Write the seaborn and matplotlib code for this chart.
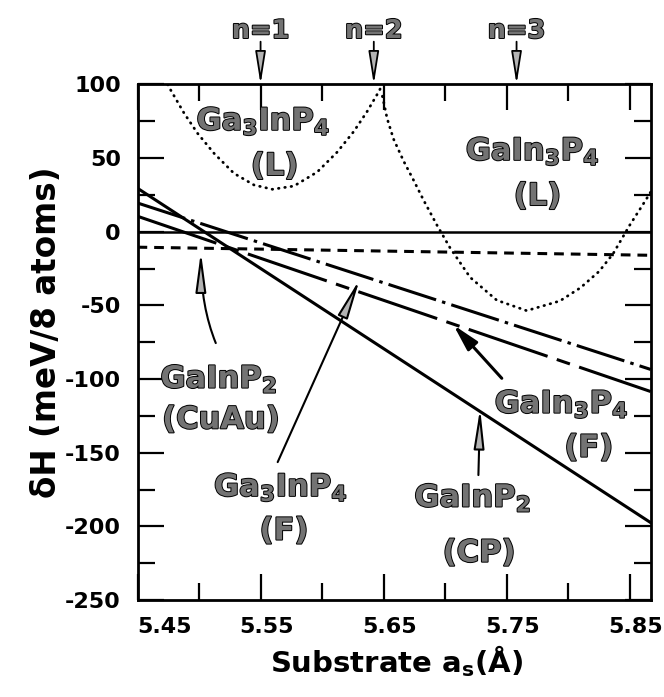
import numpy as np
import pandas as pd
import matplotlib
matplotlib.use("Agg")
import matplotlib.pyplot as plt
import matplotlib.patheffects as pe
import matplotlib.transforms as mtransforms
from matplotlib.ticker import MultipleLocator
import seaborn as sns

# ---------------- data ----------------
x_edges = [5.45, 5.867]
cp_line = [29.5, -197.5]        # GaInP2 (CP)   solid
ga3inp4_f = [19.5, -93.5]       # Ga3InP4 (F)   dash-dot
gain3p4_f = [10.5, -108.5]      # GaIn3P4 (F)   long dash
cuau_line = [-10.5, -16.0]      # GaInP2 (CuAu) dashed
zero_line = [0.0, 0.0]

ga3inp4_l_x = [5.4745, 5.4766, 5.4879, 5.4988, 5.5122, 5.5284, 5.5447, 5.5596,
               5.5771, 5.5960, 5.6122, 5.6257, 5.6365, 5.6460, 5.6490]
ga3inp4_l_y = [100.0, 96.7, 80.4, 66.8, 53.2, 39.6, 31.7, 28.8,
               31.0, 40.5, 54.0, 68.0, 81.5, 95.0, 100.0]

gain3p4_l_x = [5.6490, 5.6528, 5.6580, 5.6662, 5.6743, 5.6824, 5.6933, 5.7040,
               5.7203, 5.7419, 5.7662, 5.7932, 5.8100, 5.8250, 5.8364, 5.8500,
               5.8630, 5.8670]
gain3p4_l_y = [92.0, 77.0, 63.0, 48.0, 35.0, 21.5, 4.5, -11.0,
               -31.0, -46.5, -53.6, -47.0, -38.0, -27.0, -15.0, 4.5,
               21.5, 27.0]

n_positions = [5.55, 5.642, 5.758]
n_labels = ["n=1", "n=2", "n=3"]

x_major = [5.45, 5.55, 5.65, 5.75, 5.85]
x_ticklabels = ["5.45", "5.55", "5.65", "5.75", "5.85"]
y_major = [-250, -200, -150, -100, -50, 0, 50, 100]
y_ticklabels = ["-250", "-200", "-150", "-100", "-50", "0", "50", "100"]

# ---------------- style ----------------
sns.set_theme(style="ticks")
plt.rcParams["font.family"] = ["DejaVu Sans"]
plt.rcParams["font.weight"] = "bold"
plt.rcParams["mathtext.fontset"] = "dejavusans"
plt.rcParams["mathtext.default"] = "bf"
plt.rcParams["lines.scale_dashes"] = False
plt.rcParams["axes.linewidth"] = 2.0
plt.rcParams["text.color"] = "black"
plt.rcParams["axes.labelcolor"] = "black"

fig = plt.figure(figsize=(6.64, 6.97), dpi=100)
ax = fig.add_axes([137.5 / 664, 1 - 600 / 697, 513.2 / 664, 515.6 / 697])

lines_df = pd.DataFrame({
    "x": x_edges * 5,
    "y": cp_line + ga3inp4_f + gain3p4_f + cuau_line + zero_line,
    "name": ["cp"] * 2 + ["ga3f"] * 2 + ["gain3f"] * 2 + ["cuau"] * 2 + ["zero"] * 2,
})
styles = {
    "cp": dict(lw=2.2, linestyle="-"),
    "ga3f": dict(lw=2.2, linestyle=(0, (36, 4.5, 2.5, 4.5))),
    "gain3f": dict(lw=2.2, linestyle=(0, (60, 7, 10, 7))),
    "cuau": dict(lw=2.2, linestyle=(0, (7, 5))),
    "zero": dict(lw=1.8, linestyle="-"),
}
for name, st in styles.items():
    sub = lines_df[lines_df["name"] == name]
    sns.lineplot(data=sub, x="x", y="y", ax=ax, color="black",
                 estimator=None, sort=False, **st)

for cx, cy in [(ga3inp4_l_x, ga3inp4_l_y), (gain3p4_l_x, gain3p4_l_y)]:
    sns.lineplot(x=cx, y=cy, ax=ax, color="black", lw=2.0,
                 linestyle=(0, (0.4, 4.2)), estimator=None, sort=False,
                 dash_capstyle="round")

ax.set_xlim(5.45, 5.867)
ax.set_ylim(-250, 100)
ax.set_xticks(x_major)
ax.set_xticklabels(x_ticklabels)
ax.set_yticks(y_major)
ax.set_yticklabels(y_ticklabels)
ax.xaxis.set_minor_locator(MultipleLocator(0.05))
ax.yaxis.set_minor_locator(MultipleLocator(25))
ax.tick_params(which="both", direction="in", top=True, right=True,
               width=1.6, colors="black")
ax.tick_params(which="major", length=19)
ax.tick_params(which="minor", length=12.5)
ax.tick_params(axis="x", which="major", labelsize=16, pad=12.5)
ax.tick_params(axis="y", which="major", labelsize=16, pad=12)
for lab in ax.get_xticklabels() + ax.get_yticklabels():
    lab.set_fontweight("bold")
xt = ax.get_xticklabels()
xt[0].set_horizontalalignment("left")
shift = mtransforms.ScaledTranslation(6 / 100, 0, fig.dpi_scale_trans)
for lab in xt[1:]:
    lab.set_transform(lab.get_transform() + shift)
for sp in ax.spines.values():
    sp.set_color("black")
    sp.set_linewidth(2.0)

ax.set_xlabel(r"Substrate $\mathbf{a}_{\mathbf{s}}$(Å)", fontsize=21,
              fontweight="bold", color="black")
ax.xaxis.set_label_coords(0.5047, -0.083)
ax.set_ylabel("δH (meV/8 atoms)", fontsize=23.5, fontweight="bold",
              color="black")
ax.yaxis.set_label_coords(-0.145, 0.52)

gray_fx = [pe.withStroke(linewidth=1.4, foreground="black")]
lab_kw = dict(fontsize=22, fontweight="bold", ha="center", va="baseline",
              color="0.45", path_effects=gray_fx)

# text labels
ax.text(5.5521, 69.0, r"Ga$_3$InP$_4$", **lab_kw)
ax.text(5.5614, 38.5, "(L)", **lab_kw)
ax.text(5.7709, 48.6, r"GaIn$_3$P$_4$", **lab_kw)
ax.text(5.7750, 18.1, "(L)", **lab_kw)
ax.text(5.5160, -106.0, r"GaInP$_2$", **lab_kw)
ax.text(5.5177, -133.5, "(CuAu)", **lab_kw)
ax.text(5.5663, -179.5, r"Ga$_3$InP$_4$", **lab_kw)
ax.text(5.5690, -209.0, "(F)", **lab_kw)
ax.text(5.7223, -186.7, r"GaInP$_2$", **lab_kw)
ax.text(5.7275, -224.0, "(CP)", **lab_kw)
ax.text(5.7944, -123.0, r"GaIn$_3$P$_4$", **lab_kw)
ax.text(5.8167, -152.7, "(F)", **lab_kw)

hatch_arrow = dict(arrowstyle="-|>,head_length=24,head_width=3.2",
                   mutation_scale=1, fc="0.7", ec="black", lw=1.5,
                   shrinkA=0, shrinkB=0)
ax.annotate("", xy=(5.5015, -13.6), xytext=(5.5136, -75.6),
            arrowprops=dict(hatch_arrow,
                            connectionstyle="angle3,angleA=112,angleB=90"))
ax.annotate("", xy=(5.6306, -32.2), xytext=(5.5639, -156.4),
            arrowprops=hatch_arrow)
ax.annotate("", xy=(5.7284, -119.9), xytext=(5.7270, -165.2),
            arrowprops=hatch_arrow)
ax.annotate("", xy=(5.7067, -63.3), xytext=(5.7460, -99.5),
            arrowprops=dict(arrowstyle="-|>,head_length=16,head_width=4",
                            mutation_scale=1, fc="black", ec="black", lw=2.2,
                            shrinkA=0, shrinkB=0))

n_arrow = dict(arrowstyle="-|>,head_length=20,head_width=3.2",
               mutation_scale=1, fc="0.7", ec="black", lw=1.3,
               shrinkA=0, shrinkB=0)
for xp, lab in zip(n_positions, n_labels):
    ax.annotate("", xy=(xp, 100), xytext=(xp, 129), arrowprops=n_arrow,
                annotation_clip=False)
    ax.text(xp, 131.5, lab, fontsize=18.5, fontweight="bold", ha="center",
            va="baseline", color="0.45", path_effects=gray_fx, clip_on=False)

fig.savefig("out.png", dpi=100)
